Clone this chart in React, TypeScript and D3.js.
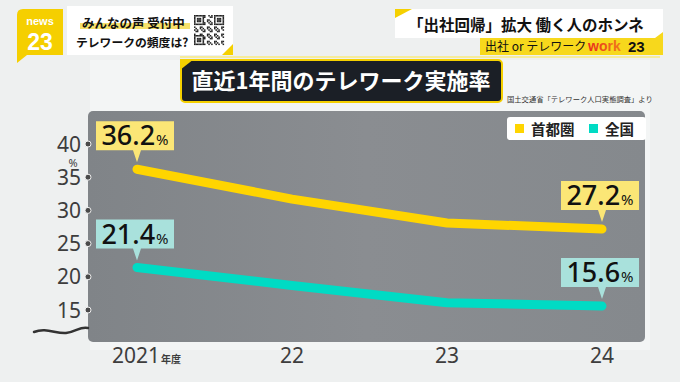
import React from 'react';
import * as d3 from 'd3';

const years = ['2021', '22', '23', '24'];
const shutoken = [36.2, 31.7, 28.1, 27.2];
const zenkoku = [21.4, 18.7, 16.1, 15.6];
const yTicks = [15, 20, 25, 30, 35, 40];
const seriesNames = ['首都圏', '全国'];
const seriesColors = ['#ffd500', '#00dbc4'];
const labelFills = ['#fbe676', '#a9e1dc'];

const FONT = "'Noto Sans CJK JP', 'Noto Sans', sans-serif";
const NUM = "'Noto Sans', 'Open Sans', sans-serif";

function QR({ x0, y0, size }: { x0: number; y0: number; size: number }) {
  const n = 21;
  const c = size / n;
  const cells: JSX.Element[] = [];
  for (let r = 0; r < n; r++) {
    for (let k = 0; k < n; k++) {
      const inFinder = (a: number, b: number) => r >= a && r < a + 7 && k >= b && k < b + 7;
      let on = false;
      if (inFinder(0, 0) || inFinder(0, 14) || inFinder(14, 0)) {
        const rr = inFinder(14, 0) ? r - 14 : r;
        const kk = inFinder(0, 14) ? k - 14 : k;
        on = rr === 0 || rr === 6 || kk === 0 || kk === 6 || (rr >= 2 && rr <= 4 && kk >= 2 && kk <= 4);
      } else {
        on = ((r * 7 + k * 13 + r * k) % 5) < 2;
      }
      if (on) cells.push(<rect key={r + '-' + k} x={x0 + k * c} y={y0 + r * c} width={c + 0.1} height={c + 0.1} fill="#222" />);
    }
  }
  return <g>{cells}</g>;
}

export default function App() {
  const W = 680, H = 382;
  const x = d3.scalePoint<string>().domain(years).range([137, 602]);
  const y = d3.scaleLinear().domain([15, 40]).range([310, 144]);
  const line = d3.line<number>().x((_, i) => x(years[i])!).y(d => y(d));
  const series = [shutoken, zenkoku];

  const labels: JSX.Element[] = [];
  series.forEach((s, si) => {
    [0, s.length - 1].forEach(i => {
      const px = x(years[i])!;
      const py = y(s[i]);
      const bw = 78, bh = 29;
      const bx = px - 41;
      const bottom = py - 19;
      const top = bottom - bh;
      labels.push(
        <g key={si + '-' + i}>
          <path d={`M${bx},${top} h${bw} v${bh} H${px + 4} L${px},${py - 7} L${px - 4},${bottom} H${bx} Z`} fill={labelFills[si]} />
          <text x={bx + bw / 2} y={bottom - 5} textAnchor="middle" fill="#111" style={{ fontFamily: NUM }}>
            <tspan fontSize={27} fontWeight={500}>{s[i].toFixed(1)}</tspan>
            <tspan fontSize={15} dx={1}>%</tspan>
          </text>
        </g>
      );
    });
  });

  return (
    <svg width={W} height={H} style={{ position: 'absolute', left: 0, top: 0, display: 'block', fontFamily: FONT }}>
      <defs>
        <linearGradient id="panelG" x1="0" x2="1" y1="0" y2="0">
          <stop offset="0" stopColor="#808488" />
          <stop offset="0.5" stopColor="#8a8d91" />
          <stop offset="1" stopColor="#85898d" />
        </linearGradient>
        <linearGradient id="workG" x1="0" x2="1">
          <stop offset="0" stopColor="#e8281e" />
          <stop offset="1" stopColor="#f07a1a" />
        </linearGradient>
      </defs>
      <rect x={0} y={0} width={W} height={H} fill="#eef0f0" />
      <rect x={90} y={60} width={560} height={290} fill="#f3f5f5" />
      <rect x={180} y={56} width={480} height={2} fill="#f6ec9c" />

      {/* Header left */}
      <rect x={67} y={6} width={166} height={49} fill="#ffffff" />
      <path d="M233,44 L233,55 L222,55 Z" fill="#f5d000" />
      <path d="M17,15 Q17,9 23,9 L63,9 L63,55 L27,55 L17,63 Z" fill="#f5cf00" />
      <text x={40} y={25} textAnchor="middle" fill="#fff" fontSize={11} fontWeight={700} style={{ fontFamily: "'Liberation Sans', Arial, sans-serif" }}>news</text>
      <text x={40} y={50} textAnchor="middle" fill="#fff" fontSize={23} fontWeight={700} style={{ fontFamily: "'Liberation Sans', Arial, sans-serif" }}>23</text>
      <rect x={80} y={23} width={110} height={6} fill="#f7e16a" />
      <text x={82} y={28} fontSize={12.5} fontWeight={700} fill="#111">みんなの声 受付中</text>
      <text x={76} y={47} fontSize={11.8} fontWeight={700} fill="#111">テレワークの頻度は?</text>
      <QR x0={194} y0={15} size={30} />

      {/* Header right */}
      <rect x={395} y={9} width={268} height={29} fill="#ffffff" />
      <path d="M395,9 L412,9 L395,18 Z" fill="#f5d000" />
      <text x={408} y={31} fontSize={15.5} fontWeight={700} fill="#111">「出社回帰」拡大 働く人のホンネ</text>
      <path d="M480,38 L655,38 L663,32 L663,55 L480,55 Z" fill="#f7d81c" />
      <text x={485} y={51} fontSize={12} fill="#111">出社 or テレワーク</text>
      <text x={588} y={51} fontSize={14} fontWeight={700} fill="url(#workG)" style={{ fontFamily: "'Liberation Sans', Arial, sans-serif" }}>work</text>
      <text x={628} y={52} fontSize={15} fontWeight={700} fill="#111" style={{ fontFamily: "'Liberation Sans', Arial, sans-serif" }}>23</text>

      {/* Title */}
      <rect x={181} y={60} width={321} height={42} rx={4} fill="#1b1f26" stroke="#f5d000" strokeWidth={2} />
      <path d="M180,59 L194,59 L180,70 Z" fill="#f5d000" />
      <text x={341} y={89} textAnchor="middle" fontSize={22} fontWeight={700} fill="#ffffff">直近1年間のテレワーク実施率</text>
      <text x={507} y={102} fontSize={7.3} fill="#333">国土交通省「テレワーク人口実態調査」より</text>

      {/* Panel */}
      <rect x={88} y={111} width={557} height={231} rx={5} fill="url(#panelG)" />

      {/* Legend */}
      <rect x={507} y={117} width={139} height={23} rx={3} fill="#ffffff" />
      {seriesNames.map((n, i) => (
        <g key={n}>
          <rect x={515 + i * 74} y={124} width={9} height={9} fill={seriesColors[i]} />
          <text x={531 + i * 74} y={134.5} fontSize={14.5} fontWeight={700} fill="#222">{n}</text>
        </g>
      ))}

      {/* Y axis */}
      {yTicks.map(t => (
        <g key={t}>
          <circle cx={88} cy={y(t)} r={3} fill="#4a4a4a" stroke="#f0f0f0" strokeWidth={1} />
          <text x={81} y={y(t) + 7.5} textAnchor="end" fontSize={21} fill="#3d3d3d" style={{ fontFamily: NUM }}>{t}</text>
        </g>
      ))}
      <text x={73} y={167} textAnchor="middle" fontSize={11} fill="#3d3d3d" style={{ fontFamily: NUM }}>%</text>
      <path d="M34,332 C46,327 56,334 66,333 C76,332 80,326 88,328" fill="none" stroke="#333" strokeWidth={2.5} strokeLinecap="round" />

      {/* X axis labels */}
      {years.map((yr, i) => (
        <text key={yr} x={i === 0 ? 112 : x(yr)!} y={363} textAnchor={i === 0 ? 'start' : 'middle'} fontSize={21} fill="#3d3d3d" style={{ fontFamily: NUM }}>
          {yr}
          {i === 0 && <tspan fontSize={10} fontWeight={700} dx={1} style={{ fontFamily: FONT }}>年度</tspan>}
        </text>
      ))}

      {/* Lines */}
      {series.map((s, si) => (
        <path key={si} d={line(s)!} fill="none" stroke={seriesColors[si]} strokeWidth={9} strokeLinecap="round" strokeLinejoin="round" />
      ))}

      {labels}
    </svg>
  );
}
